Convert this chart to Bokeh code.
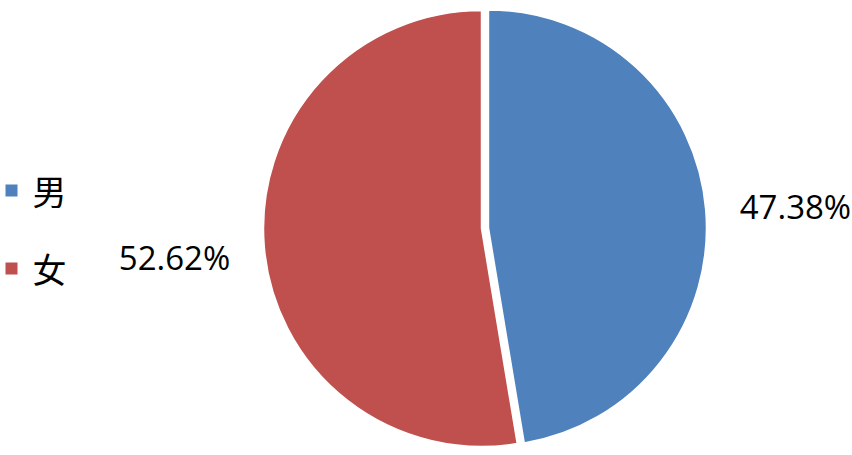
import numpy as np
from bokeh.plotting import figure
from bokeh.models import ColumnDataSource, Range1d
from bokeh.core.properties import value
from bokeh.embed import file_html
from bokeh.resources import INLINE

categories = ["男", "女"]
shares = [47.38, 52.62]
labels = ["47.38%", "52.62%"]
colors = ["#4F81BD", "#C0504D"]
explode = [7, 0]

W, H = 852, 455
p = figure(width=W, height=H, output_backend="svg", toolbar_location=None,
           x_range=Range1d(0, W), y_range=Range1d(0, H), min_border=0)
p.axis.visible = False
p.grid.visible = False
p.outline_line_color = None
p.background_fill_color = "white"

# pie geometry (layout units = pixels)
cx, cy, r = 481, H - 228, 218
frac = np.array(shares) / sum(shares)
ends = np.pi / 2 - np.concatenate([[0], np.cumsum(frac)[:-1]]) * 2 * np.pi
starts = ends - frac * 2 * np.pi
mids = (starts + ends) / 2
ex = np.array(explode, dtype=float)
xs = cx + ex * np.cos(mids)
ys = cy + ex * np.sin(mids)

src = ColumnDataSource(dict(x=xs, y=ys, start=starts, end=ends, color=colors,
                            cat=categories))
p.wedge(x="x", y="y", radius=r, start_angle="start", end_angle="end",
        fill_color="color", line_color="white", line_width=1.5, source=src)

lr = 308
lsrc = ColumnDataSource(dict(x=xs + lr * np.cos(mids), y=ys + lr * np.sin(mids) - 4,
                             t=labels))
p.text(x="x", y="y", text="t", source=lsrc, text_align="center",
       text_baseline="middle", text_font=value("Open Sans"),
       text_font_size="33px", text_color="black")

# legend
leg_y = np.array([H - 190, H - 268])
p.scatter(x=[11, 11], y=leg_y, marker="square", size=12, fill_color=colors,
          line_color=None)
p.text(x=[32, 32], y=leg_y, text=categories, text_baseline="middle",
       text_font=value("Noto Sans CJK SC"), text_font_size="34px",
       text_color="black")

open("out.html", "w").write(file_html(p, INLINE))
